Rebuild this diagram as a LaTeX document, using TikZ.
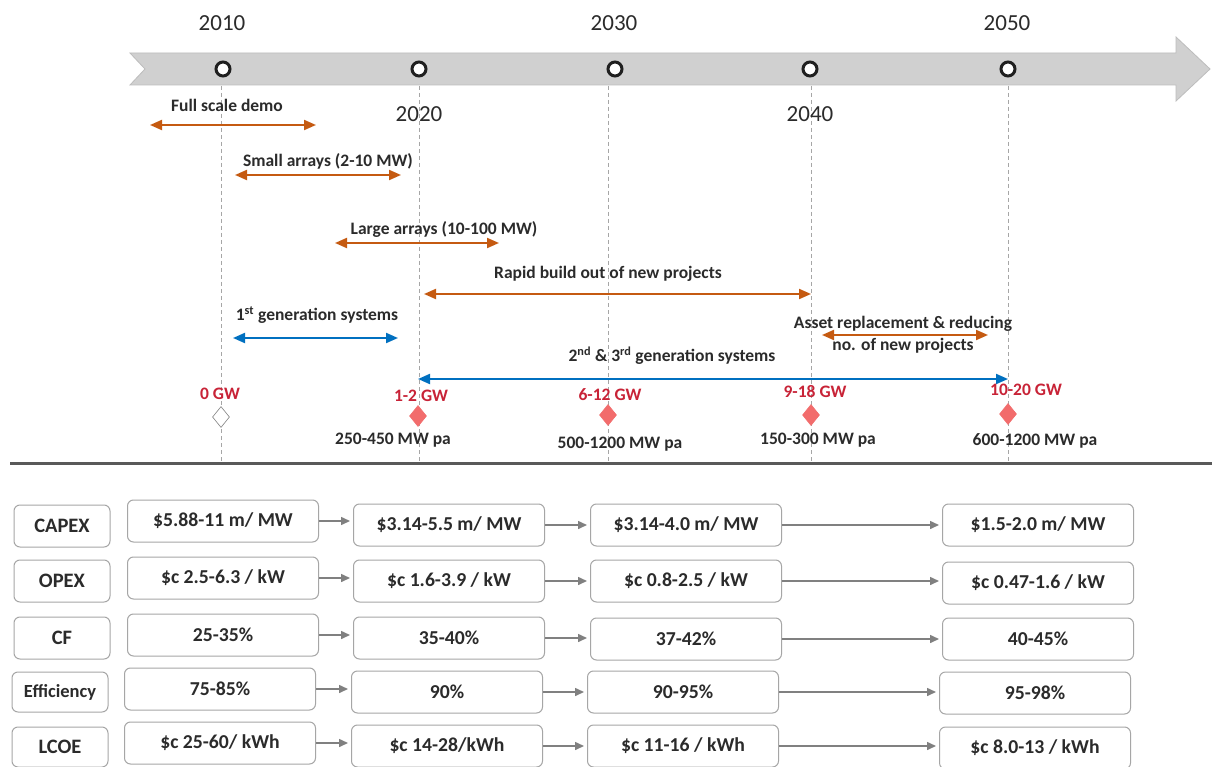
\documentclass[tikz,border=0pt]{standalone}
\usepackage{fontspec}
\setmainfont{Carlito}
\usetikzlibrary{arrows.meta,shapes.geometric}
\definecolor{tlgrey}{HTML}{D0D0D0}
\definecolor{tledge}{HTML}{BDBDBD}
\definecolor{orng}{HTML}{C55A11}
\definecolor{blu}{HTML}{0070C0}
\definecolor{gwred}{RGB}{200,35,55}
\definecolor{dia}{RGB}{242,108,108}
\definecolor{txt}{HTML}{2B2B2B}
\definecolor{boxedge}{HTML}{A6A6A6}
\definecolor{garr}{HTML}{808080}
\definecolor{sepc}{HTML}{595959}
\begin{document}
\begin{tikzpicture}[x=1pt,y=-1pt,
 yearlbl/.style={font=\fontsize{23}{26}\selectfont,text=txt,inner sep=0},
 tllbl/.style={font=\bfseries\fontsize{17.5}{20}\selectfont,text=txt,inner sep=0,align=center},
 gwlbl/.style={font=\bfseries\fontsize{17.5}{19}\selectfont,text=gwred,inner sep=0},
 palbl/.style={font=\bfseries\fontsize{17.5}{20}\selectfont,text=txt,inner sep=0},
 dot/.style={circle,draw=black!88,fill=white,line width=3pt,minimum size=14pt,inner sep=0},
 vline/.style={draw=boxedge,line width=0.8pt,dash pattern=on 4pt off 3pt},
 oarr/.style={draw=orng,line width=2pt,{Triangle[length=12pt,width=10pt]}-{Triangle[length=12pt,width=10pt]}},
 barr/.style={oarr,draw=blu},
 gem/.style={diamond,fill=dia,draw=dia,line width=0.6pt,minimum width=17pt,minimum height=21pt,inner sep=0},
 gemopen/.style={gem,fill=white,draw=garr},
 vbox/.style={draw=boxedge,line width=1pt,rounded corners=6pt,inner sep=0,minimum width=191pt,minimum height=42pt,font=\bfseries\fontsize{19.7}{22}\selectfont,text=txt},
 rbox/.style={vbox,minimum width=96pt,font=\bfseries\fontsize{20.5}{23}\selectfont},
 garrow/.style={draw=garr,line width=1.5pt,-{Triangle[length=9pt,width=8pt]},shorten >=3pt}
]
\useasboundingbox (0,0) rectangle (1212,767);
\fill[white] (0,0) rectangle (1212,767);

% timeline arrow
\draw[fill=tlgrey,draw=tledge,line width=0.8pt] (130,53) -- (1176,53) -- (1176,37) -- (1210,69) -- (1176,101) -- (1176,85) -- (130,85) -- (145,69) -- cycle;

% dashed verticals
\foreach \xx/\nm in {221/a,419/b,608/c,811/d,1008/e}{
  \coordinate (vt\nm) at (\xx,86);
  \coordinate (vb\nm) at (\xx,462);
  \draw[vline] (vt\nm) -- (vb\nm);
}

% dots
\node[dot] (d10) at (223,69) {};
\node[dot] (d20) at (419,69) {};
\node[dot] (d30) at (615,69) {};
\node[dot] (d40) at (810,69) {};
\node[dot] (d50) at (1008,69) {};

% years
\node[yearlbl] (y10) at (222,23) {2010};
\node[yearlbl] (y30) at (614,23) {2030};
\node[yearlbl] (y50) at (1007,23) {2050};
\node[yearlbl] (y20) at (419,114) {2020};
\node[yearlbl] (y40) at (810,114) {2040};

% phases
\node[tllbl] (l1) at (227,105) {Full scale demo};
\coordinate (a1l) at (150,125); \coordinate (a1r) at (316,125);
\draw[oarr] (a1l) -- (a1r);

\node[tllbl] (l2) at (328,161) {Small arrays (2-10 MW)};
\coordinate (a2l) at (235,175); \coordinate (a2r) at (401,175);
\draw[oarr] (a2l) -- (a2r);

\node[tllbl] (l3) at (444,229) {Large arrays (10-100 MW)};
\coordinate (a3l) at (335,243); \coordinate (a3r) at (499,243);
\draw[oarr] (a3l) -- (a3r);

\node[tllbl] (l4) at (608,274) {Rapid build out of new projects};
\coordinate (a4l) at (424,294); \coordinate (a4r) at (811,294);
\draw[oarr] (a4l) -- (a4r);

\node[tllbl] (l5) at (317,315) {1\textsuperscript{st} generation systems};
\coordinate (a5l) at (233,338); \coordinate (a5r) at (398,338);
\draw[barr] (a5l) -- (a5r);

\node[tllbl] (l6a) at (903,324) {Asset replacement \& reducing};
\node[tllbl] (l6b) at (903,346) {no. of new projects};
\coordinate (a6l) at (822,335); \coordinate (a6r) at (988,335);
\draw[oarr] (a6l) -- (a6r);

\node[tllbl] (l7) at (672,356) {2\textsuperscript{nd} \& 3\textsuperscript{rd} generation systems};
\coordinate (a7l) at (418,379); \coordinate (a7r) at (1008,379);
\draw[barr] (a7l) -- (a7r);

% capacity markers
\node[gwlbl] (g0) at (220,394) {0 GW};
\node[gwlbl] (g1) at (421,396) {1-2 GW};
\node[gwlbl] (g2) at (610,395) {6-12 GW};
\node[gwlbl] (g3) at (815,392) {9-18 GW};
\node[gwlbl] (g4) at (1026,390) {10-20 GW};

\node[gemopen] (m0) at (221,417) {};
\node[gem] (m1) at (418,416) {};
\node[gem] (m2) at (608,415) {};
\node[gem] (m3) at (811,415) {};
\node[gem] (m4) at (1008,414) {};

\node[palbl] (p1) at (393,440) {250-450 MW pa};
\node[palbl] (p2) at (620,444) {500-1200 MW pa};
\node[palbl] (p3) at (818,440) {150-300 MW pa};
\node[palbl] (p4) at (1035,441) {600-1200 MW pa};

% separator
\coordinate (s1) at (10,463); \coordinate (s2) at (1212,463);
\draw[draw=sepc,line width=3pt] (s1) -- (s2);

% table
\node[rbox] (rCAP) at (62,526) {CAPEX};
\node[vbox] (c1) at (223,521) {\$5.88-11 m/ MW};
\node[vbox] (c2) at (449,525) {\$3.14-5.5 m/ MW};
\node[vbox] (c3) at (686,525) {\$3.14-4.0 m/ MW};
\node[vbox] (c4) at (1038,525) {\$1.5-2.0 m/ MW};

\node[rbox] (rOP) at (62,581) {OPEX};
\node[vbox] (o1) at (223,578) {\$c 2.5-6.3 / kW};
\node[vbox] (o2) at (449,581) {\$c 1.6-3.9 / kW};
\node[vbox] (o3) at (686,581) {\$c 0.8-2.5 / kW};
\node[vbox] (o4) at (1038,583) {\$c 0.47-1.6 / kW};

\node[rbox] (rCF) at (62,638) {CF};
\node[vbox] (f1) at (223,635) {25-35\%};
\node[vbox] (f2) at (449,638) {35-40\%};
\node[vbox] (f3) at (686,639) {37-42\%};
\node[vbox] (f4) at (1038,639) {40-45\%};

\node[rbox,font=\bfseries\fontsize{18.5}{21}\selectfont,minimum height=40pt] (rEF) at (60,692) {Efficiency};
\node[vbox] (e1) at (220,689) {75-85\%};
\node[vbox] (e2) at (447,692) {90\%};
\node[vbox] (e3) at (683,692) {90-95\%};
\node[vbox] (e4) at (1035,693) {95-98\%};

\node[rbox,minimum height=40pt] (rLC) at (60,747) {LCOE};
\node[vbox] (k1) at (220,743) {\$c 25-60/ kWh};
\node[vbox] (k2) at (447,746) {\$c 14-28/kWh};
\node[vbox] (k3) at (683,746) {\$c 11-16 / kWh};
\node[vbox] (k4) at (1035,748) {\$c 8.0-13 / kWh};

\foreach \r in {c,o,f,e,k}{
  \draw[garrow] (\r1.east) -- (\r1.east -| \r2.west);
  \draw[garrow] (\r2.east) -- (\r2.east -| \r3.west);
  \draw[garrow] (\r3.east) -- (\r3.east -| \r4.west);
}
\end{tikzpicture}
\end{document}
